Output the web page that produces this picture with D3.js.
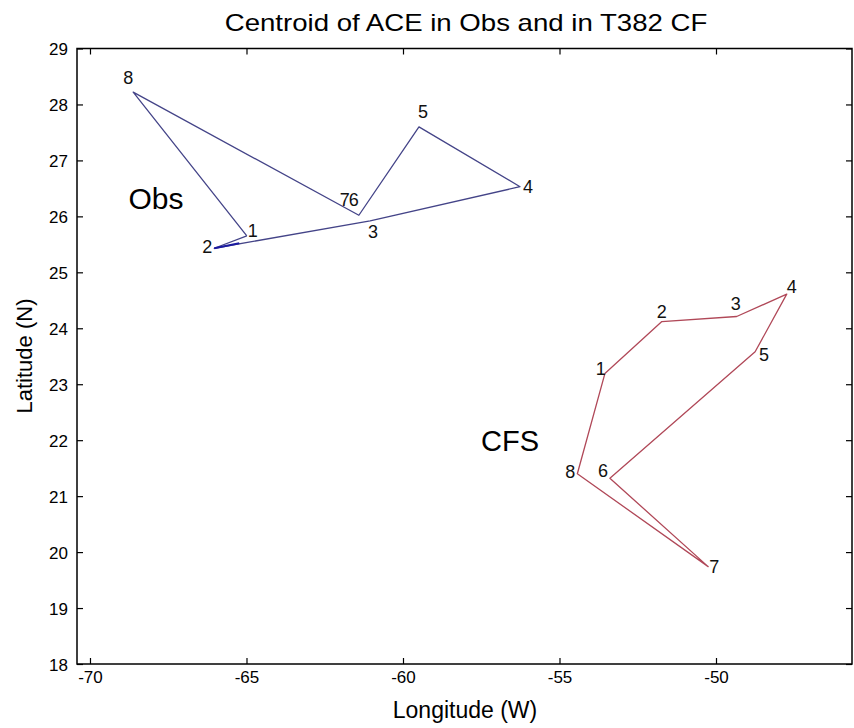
<!DOCTYPE html>
<html><head><meta charset="utf-8">
<script src="https://cdn.jsdelivr.net/npm/d3@7/dist/d3.min.js"></script>
<style>body{margin:0;background:#fff}svg{display:block}text{font-family:"Liberation Sans",Arial,sans-serif}</style>
</head><body><svg id="c" width="854" height="728"></svg>
<script>
// Data
const stepLabels = ["1","2","3","4","5","6","7","8"];
const obsLon = [-64.99,-66.03,-61.05,-56.26,-59.49,-61.41,-61.41,-68.62];
const obsLat = [25.65,25.43,25.92,26.53,27.60,26.02,26.02,28.22];
const cfsLon = [-53.55,-51.73,-49.34,-47.74,-48.75,-53.39,-50.25,-54.43];
const cfsLat = [23.19,24.12,24.21,24.61,23.58,21.32,19.74,21.40];
const xTicks = [-70,-65,-60,-55,-50];
const yTicks = [18,19,20,21,22,23,24,25,26,27,28,29];

// label pixel offsets (style)
const obsOff = [[6,-5],[-7,-1],[3,11],[8,0],[4,-15],[-5,-15],[-14,-15],[-5,-14]];
const cfsOff = [[-4,-5],[0,-10],[-1,-13],[5,-7],[9,3],[-7,-7],[6,0],[-7,-2]];

const svg = d3.select("#c");
const L=77, R=852, T=48.5, B=664;
const x = d3.scaleLinear().domain([-70.415,-45.655]).range([L,R]);
const y = d3.scaleLinear().domain([18,29]).range([B,T]);

svg.append("text").attr("transform","translate(466,31) scale(1.2,1)").attr("text-anchor","middle")
  .attr("font-size",23).text("Centroid of ACE in Obs and in T382 CF");

// axes
const tl=6;
const fmt = d => String(d);
const gB = svg.append("g").attr("transform",`translate(0,${B})`)
  .call(d3.axisBottom(x).tickValues(xTicks).tickSize(-tl).tickPadding(4).tickFormat(fmt));
const gT = svg.append("g").attr("transform",`translate(0,${T})`)
  .call(d3.axisTop(x).tickValues(xTicks).tickSize(-tl).tickFormat(""));
const gL = svg.append("g").attr("transform",`translate(${L},0)`)
  .call(d3.axisLeft(y).tickValues(yTicks).tickSize(-tl).tickPadding(9).tickFormat(fmt));
const gR = svg.append("g").attr("transform",`translate(${R},0)`)
  .call(d3.axisRight(y).tickValues(yTicks).tickSize(-tl).tickFormat(""));
[gB,gT,gL,gR].forEach(g=>{
  g.select(".domain").remove();
  g.selectAll("line").attr("stroke","#000").attr("stroke-width",1.2);
  g.selectAll("text").attr("font-size",17).attr("fill","#000").attr("font-family","'Liberation Sans',Arial,sans-serif");
});
gB.selectAll("text").attr("dy","0").attr("y",19);
gL.selectAll("text").attr("dy","0.36em");
svg.append("rect").attr("x",L).attr("y",T).attr("width",R-L).attr("height",B-T)
  .attr("fill","none").attr("stroke","#000").attr("stroke-width",1.5);

svg.append("text").attr("x",465).attr("y",718).attr("text-anchor","middle")
  .attr("font-size",23).text("Longitude (W)");
svg.append("text").attr("transform","translate(32,356) rotate(-90)").attr("text-anchor","middle")
  .attr("font-size",22).text("Latitude (N)");

function track(lon, lat, off, color){
  const pts = lon.map((d,i)=>[x(d), y(lat[i])]);
  const closed = pts.concat([pts[0]]);
  svg.append("path").attr("d", d3.line()(closed)).attr("fill","none")
    .attr("stroke",color).attr("stroke-width",1.3).attr("stroke-linejoin","round");
  svg.selectAll(null).data(pts).enter().append("text")
    .attr("x",(d,i)=>d[0]+off[i][0]).attr("y",(d,i)=>d[1]+off[i][1])
    .attr("text-anchor","middle").attr("dominant-baseline","central")
    .attr("font-size",18).attr("fill","#111").text((d,i)=>stepLabels[i]);
}
track(obsLon, obsLat, obsOff, "#444488");
// darker segment near 2
svg.append("line").attr("x1",x(obsLon[1])).attr("y1",y(obsLat[1])).attr("x2",x(obsLon[1])+25).attr("y2",y(obsLat[1])-5)
  .attr("stroke","#1a1aa0").attr("stroke-width",2);
track(cfsLon, cfsLat, cfsOff, "#b04858");

svg.append("text").attr("x",156).attr("y",198).attr("text-anchor","middle").attr("dominant-baseline","central")
  .attr("font-size",30).text("Obs");
svg.append("text").attr("x",510).attr("y",441).attr("text-anchor","middle").attr("dominant-baseline","central")
  .attr("font-size",29).text("CFS");
</script></body></html>
